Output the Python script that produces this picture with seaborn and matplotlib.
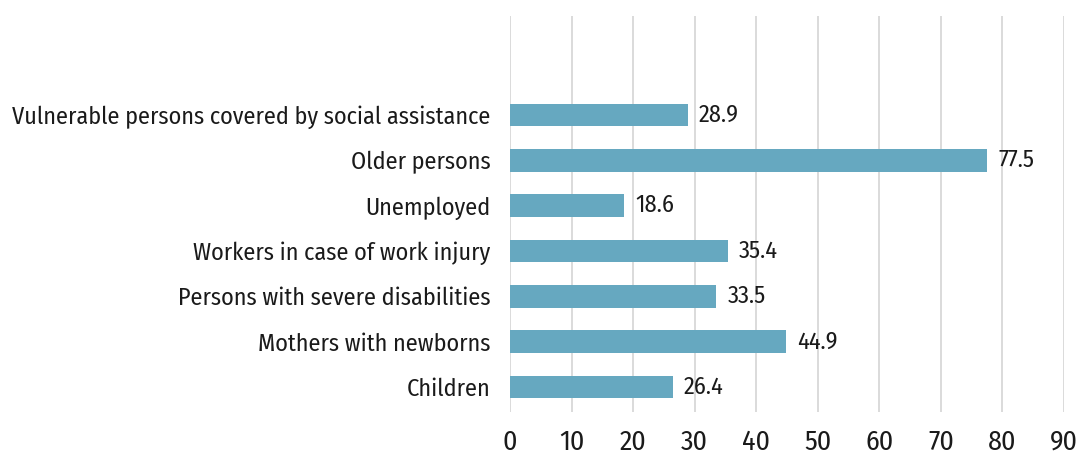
import matplotlib
matplotlib.use("Agg")
import matplotlib.pyplot as plt
import seaborn as sns
import pandas as pd

categories = [
    "Vulnerable persons covered by social assistance",
    "Older persons",
    "Unemployed",
    "Workers in case of work injury",
    "Persons with severe disabilities",
    "Mothers with newborns",
    "Children",
]
values = [28.9, 77.5, 18.6, 35.4, 33.5, 44.9, 26.4]
x_ticks = [0, 10, 20, 30, 40, 50, 60, 70, 80, 90]

sns.set_style("white")
plt.rcParams["font.family"] = ["Fira Sans Condensed", "DejaVu Sans"]

df = pd.DataFrame({"category": categories, "value": values})

fig = plt.figure(figsize=(10.89, 4.55), dpi=100)
ax = fig.add_axes([510 / 1089, 1 - 412 / 455, (1064 - 510) / 1089, (412 - 16) / 455])

sns.barplot(data=df, y="category", x="value", orient="h", color="#66a8c0",
            saturation=1, width=0.5, linewidth=0, ax=ax, zorder=3)

ax.set_xlim(0, 90)
ax.set_ylim(6.55, -2.18)
ax.set_xticks(x_ticks)
ax.set_xticklabels([str(t) for t in x_ticks])
ax.xaxis.grid(True, color="#d4d4d4", linewidth=1.2, zorder=0)
ax.yaxis.grid(False)
for s in ax.spines.values():
    s.set_visible(False)
ax.set_xlabel("")
ax.set_ylabel("")
ax.tick_params(axis="x", length=0, pad=12, labelsize=20, colors="#1a1a1a")
ax.tick_params(axis="y", length=0, pad=14, labelsize=17.4, colors="#1a1a1a")

for i, v in enumerate(values):
    ax.annotate(f"{v:.1f}", xy=(v, i), xytext=(8, 0), textcoords="offset points",
                va="center", ha="left", fontsize=17.5, color="#1a1a1a")

fig.savefig("out.png", dpi=100)
